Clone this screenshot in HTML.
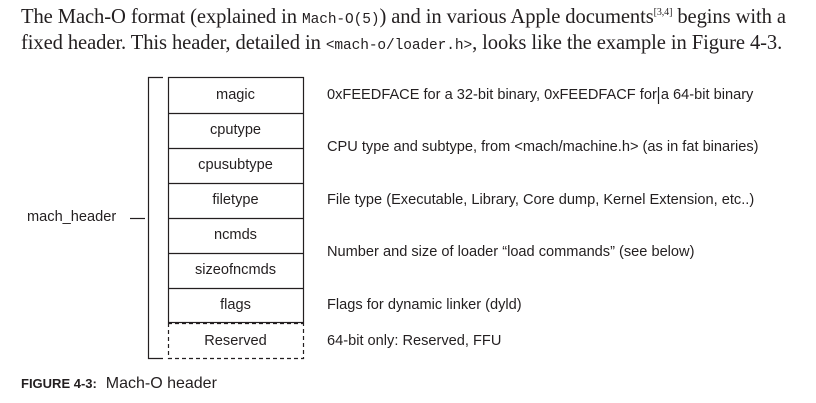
<!DOCTYPE html>
<html><head><style>
body{margin:0;width:816px;height:403px;background:#fff;position:relative;overflow:hidden;color:#231f20}
.p{position:absolute;left:21px;font-family:"Liberation Serif",serif;font-size:20.6px;white-space:nowrap;letter-spacing:-0.1px}
.p code{font-family:"Liberation Mono",monospace;font-size:14.5px}
.t{position:absolute;font-family:"Liberation Sans",sans-serif;font-size:14.6px;white-space:nowrap}
.c{position:absolute;left:168px;width:135px;text-align:center;font-family:"Liberation Sans",sans-serif;font-size:14.6px}
</style></head><body>
<div class="p" style="top:6px">The Mach-O format (explained in <code>Mach-O(5)</code>) and in various Apple documents<sup style="font-size:10px">[3,4]</sup> begins with a</div>
<div class="p" style="top:32px">fixed header. This header, detailed in <code>&lt;mach-o/loader.h&gt;</code>, looks like the example in Figure 4-3.</div>
<svg width="816" height="403" style="position:absolute;left:0;top:0">
<g stroke="#231f20" stroke-width="1.2" fill="none">
<polyline points="163,77.5 148.5,77.5 148.5,358.5 163,358.5"/>
<line x1="130" y1="218.5" x2="145" y2="218.5"/>
<rect x="168.5" y="77.5" width="135" height="245"/>
<line x1="168" y1="113.5" x2="304" y2="113.5"/>
<line x1="168" y1="148.5" x2="304" y2="148.5"/>
<line x1="168" y1="183.5" x2="304" y2="183.5"/>
<line x1="168" y1="218.5" x2="304" y2="218.5"/>
<line x1="168" y1="253.5" x2="304" y2="253.5"/>
<line x1="168" y1="288.5" x2="304" y2="288.5"/>
<g stroke-dasharray="4,3"><polyline points="168.5,323 168.5,358.5 303.5,358.5 303.5,323"/><line x1="168" y1="323.5" x2="304" y2="323.5"/></g>
<line x1="658.5" y1="87" x2="658.5" y2="104"/>
</g></svg>
<div class="c" style="top:87px">magic</div>
<div class="c" style="top:122px">cputype</div>
<div class="c" style="top:157px">cpusubtype</div>
<div class="c" style="top:192px">filetype</div>
<div class="c" style="top:227px">ncmds</div>
<div class="c" style="top:262px">sizeofncmds</div>
<div class="c" style="top:297px">flags</div>
<div class="c" style="top:333px">Reserved</div>
<div class="t" style="left:27px;top:209px">mach_header</div>
<div class="t" style="left:327px;top:87px">0xFEEDFACE for a 32-bit binary, 0xFEEDFACF for a 64-bit binary</div>
<div class="t" style="left:327px;top:139px">CPU type and subtype, from &lt;mach/machine.h&gt; (as in fat binaries)</div>
<div class="t" style="left:327px;top:192px">File type (Executable, Library, Core dump, Kernel Extension, etc..)</div>
<div class="t" style="left:327px;top:244px">Number and size of loader “load commands” (see below)</div>
<div class="t" style="left:327px;top:297px">Flags for dynamic linker (dyld)</div>
<div class="t" style="left:327px;top:333px">64-bit only: Reserved, FFU</div>
<div class="t" style="left:21px;top:375px;font-size:16px"><b style="font-size:13px">FIGURE 4-3:</b>&nbsp; Mach-O header</div>
</body></html>
